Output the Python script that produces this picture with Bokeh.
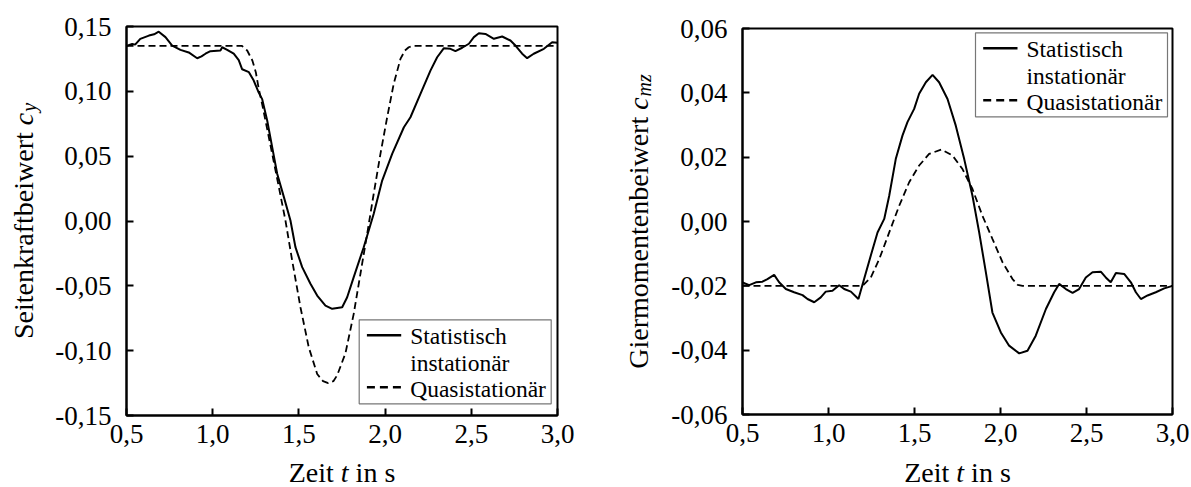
import math
from bokeh.plotting import figure
from bokeh.models import (Range1d, FixedTicker, CustomJSTickFormatter, Label,
                          BoxAnnotation, Arrow)
from bokeh.layouts import row
from bokeh.embed import file_html
from bokeh.resources import INLINE

FONT = "'Liberation Serif', 'Times New Roman', Times, serif"

# ---------------- data ----------------
t_ticks = [0.5, 1.0, 1.5, 2.0, 2.5, 3.0]
cy_ticks = [-0.15, -0.10, -0.05, 0.0, 0.05, 0.10, 0.15]
cmz_ticks = [-0.06, -0.04, -0.02, 0.0, 0.02, 0.04, 0.06]

legend_labels = ["Statistisch", "instationär", "Quasistationär"]

# left panel: side force coefficient c_y
cy_inst_t = [0.50, 0.533, 0.55, 0.58, 0.63, 0.66, 0.687, 0.726, 0.765, 0.813,
             0.861, 0.91, 0.935, 0.958, 0.987, 1.045, 1.055, 1.084, 1.122, 1.151,
             1.171, 1.21, 1.238, 1.267, 1.287, 1.316, 1.345, 1.374, 1.413, 1.451,
             1.48, 1.519, 1.567, 1.606, 1.654, 1.693, 1.751, 1.78, 1.818, 1.876,
             1.934, 1.983, 2.041, 2.109, 2.147, 2.205, 2.263, 2.302, 2.341, 2.379,
             2.408, 2.447, 2.486, 2.515, 2.544, 2.582, 2.631, 2.679, 2.727, 2.756,
             2.795, 2.824, 2.862, 2.921, 2.969, 3.0]
cy_inst = [0.135, 0.1366, 0.136, 0.1405, 0.143, 0.144, 0.146, 0.1418, 0.1353, 0.132,
           0.130, 0.1255, 0.127, 0.129, 0.131, 0.1315, 0.134, 0.132, 0.129, 0.124,
           0.117, 0.1148, 0.1083, 0.099, 0.094, 0.0775, 0.057, 0.0364, 0.0184, 0.0004,
           -0.0202, -0.0356, -0.0484, -0.0575, -0.0652, -0.0677, -0.0665, -0.0588, -0.0433, -0.0202,
           0.0056, 0.0312, 0.0518, 0.0723, 0.080, 0.098, 0.116, 0.1263, 0.1333, 0.1328,
           0.131, 0.1336, 0.1367, 0.1418, 0.1448, 0.1443, 0.1405, 0.1423, 0.1392, 0.1353,
           0.129, 0.1256, 0.129, 0.1328, 0.1379, 0.1374]

cy_quasi_t = [0.5, 1.17, 1.20, 1.23, 1.25, 1.267, 1.287, 1.345, 1.384, 1.422,
              1.461, 1.509, 1.557, 1.606, 1.64, 1.67, 1.70, 1.722, 1.77, 1.818,
              1.857, 1.896, 1.934, 1.973, 2.012, 2.05, 2.089, 2.115, 2.137, 2.16, 3.0]
cy_quasi = [0.135, 0.135, 0.1315, 0.1238, 0.1148, 0.102, 0.090, 0.0518, 0.026, 0.0004,
            -0.0305, -0.0665, -0.0973, -0.118, -0.1235, -0.125, -0.1235, -0.119, -0.102, -0.0716,
            -0.0407, -0.0099, 0.021, 0.0518, 0.080, 0.1058, 0.125, 0.1315, 0.134, 0.135, 0.135]

# right panel: yaw moment coefficient c_mz
cmz_inst_t = [0.5, 0.539, 0.578, 0.616, 0.645, 0.684, 0.713, 0.752, 0.80, 0.849,
              0.878, 0.917, 0.955, 0.984, 1.023, 1.062, 1.091, 1.13, 1.174, 1.207,
              1.246, 1.285, 1.324, 1.353, 1.391, 1.43, 1.459, 1.498, 1.527, 1.566,
              1.605, 1.643, 1.692, 1.74, 1.789, 1.837, 1.876, 1.915, 1.953, 2.002,
              2.05, 2.109, 2.157, 2.205, 2.264, 2.312, 2.341, 2.38, 2.419, 2.457,
              2.496, 2.535, 2.583, 2.612, 2.641, 2.671, 2.719, 2.758, 2.787, 2.816,
              2.855, 2.903, 2.952, 3.0]
cmz_inst = [-0.0189, -0.0198, -0.0189, -0.0187, -0.0179, -0.0166, -0.0189, -0.021, -0.022, -0.0229,
            -0.0241, -0.0251, -0.0236, -0.0218, -0.0215, -0.0198, -0.021, -0.0218, -0.0241, -0.0179,
            -0.0106, -0.0034, 0.0008, 0.008, 0.0194, 0.0267, 0.0309, 0.035, 0.0397, 0.0433,
            0.0456, 0.0433, 0.0381, 0.0298, 0.0194, 0.008, -0.0034, -0.0158, -0.0283, -0.0345,
            -0.0386, -0.041, -0.0402, -0.0355, -0.0272, -0.022, -0.0194, -0.021, -0.0222, -0.021,
            -0.0174, -0.0158, -0.0156, -0.0174, -0.0189, -0.016, -0.0163, -0.0189, -0.022, -0.0241,
            -0.023, -0.022, -0.0208, -0.020]

cmz_quasi_t = [0.5, 1.198, 1.246, 1.295, 1.353, 1.411, 1.469, 1.527, 1.585, 1.657,
               1.721, 1.779, 1.837, 1.895, 1.953, 2.012, 2.07, 2.10, 2.128, 3.0]
cmz_quasi = [-0.020, -0.020, -0.0174, -0.0117, -0.0034, 0.0049, 0.0122, 0.0174, 0.021, 0.0224,
             0.0205, 0.0163, 0.0101, 0.0018, -0.0054, -0.0127, -0.0179, -0.0197, -0.020, -0.020]

DASH = "7 4"
H = 487
BASE_FIX = 8   # labels render a little below the requested alphabetic baseline
SP = 7.0       # width of a space at 28px (Times metrics)


def txt(p, x, y, text, size="28px", style="normal", align="left", angle=0.0):
    # x, y = wanted baseline anchor in figure pixels from the top-left corner
    if angle == 0.0:
        y = y - BASE_FIX
    else:
        x = x - BASE_FIX
    p.add_layout(Label(x=x, y=H - y, x_units="screen", y_units="screen", text=text,
                       angle=angle, text_font=FONT, text_font_size=size,
                       text_font_style=style, text_align=align,
                       text_baseline="alphabetic", text_color="black"))


def make_panel(W, box, yr, yticks, t_inst, v_inst, t_q, v_q,
               ymain, ymain_w, ysub, ysub_w, ylab_x, leg_left, leg_top):
    bl, br, bt, bb = box           # plot box edges in figure pixels
    x0d, x1d = 0.5, 3.0
    y0d, y1d = yr
    kx = (x1d - x0d) / (br - bl)
    ky = (y1d - y0d) / (bb - bt)
    xr = Range1d(x0d - bl * kx, x1d + (W - br) * kx)
    yrng = Range1d(y0d - (H - bb) * ky, y1d + bt * ky)

    p = figure(width=W, height=H, min_border=0, x_range=xr, y_range=yrng,
               output_backend="svg", toolbar_location=None)
    p.grid.visible = False
    p.background_fill_color = "white"
    p.border_fill_color = "white"
    p.outline_line_color = None

    p.xaxis.fixed_location = y0d
    p.yaxis.fixed_location = x0d
    p.xaxis.bounds = (x0d, x1d)
    p.yaxis.bounds = (y0d, y1d)
    p.xaxis.ticker = FixedTicker(ticks=t_ticks)
    p.yaxis.ticker = FixedTicker(ticks=yticks)
    p.xaxis.formatter = CustomJSTickFormatter(code="return tick.toFixed(1).replace('.', ',');")
    p.yaxis.formatter = CustomJSTickFormatter(code="return tick.toFixed(2).replace('.', ',');")
    for ax in (p.xaxis[0], p.yaxis[0]):
        ax.axis_line_width = 2
        ax.axis_line_color = "black"
        ax.major_tick_in = 7
        ax.major_tick_out = 0
        ax.major_tick_line_width = 2
        ax.major_tick_line_color = "black"
        ax.minor_tick_line_color = None
        ax.major_label_text_font = FONT
        ax.major_label_text_font_size = "27px"
        ax.major_label_text_color = "black"
    p.xaxis.major_label_standoff = 9
    p.yaxis.major_label_standoff = 15

    p.line(t_inst, v_inst, line_color="black", line_width=2)
    p.line(t_q, v_q, line_color="black", line_width=1.8, line_dash=DASH)

    # plot box (frame outline)
    p.add_layout(BoxAnnotation(left=x0d, right=x1d, bottom=y0d, top=y1d,
                               fill_color=None, fill_alpha=0,
                               line_color="black", line_width=2, line_alpha=1))

    # x axis title "Zeit t in s" with italic t
    cx = (bl + br) / 2.0 + 2.7
    ty = 480
    txt(p, cx - 3.9 - SP, ty, "Zeit", align="right")
    txt(p, cx, ty, "t", style="italic", align="center")
    txt(p, cx + 3.9 + SP, ty, "in s", align="left")

    # y axis title with italic c and italic subscript
    ang = math.pi / 2
    total = ymain_w + SP + 12.4 + 1 + ysub_w
    cy_mid = (bt + bb) / 2.0
    start = cy_mid + total / 2.0          # figure-y of text start (bottom)
    y_c = start - ymain_w - SP             # figure-y where the italic c begins
    txt(p, ylab_x, y_c + SP, ymain, align="right", angle=ang)
    txt(p, ylab_x, y_c, "c", style="italic", align="left", angle=ang)
    txt(p, ylab_x + 5, y_c - 13.4, ysub, size="20px", style="italic", align="left", angle=ang)

    # legend
    lw, lh = 192, 84
    p.add_layout(BoxAnnotation(left=leg_left, right=leg_left + lw, top=H - leg_top,
                               bottom=H - leg_top - lh,
                               left_units="screen", right_units="screen",
                               top_units="screen", bottom_units="screen",
                               fill_color="white", fill_alpha=1,
                               line_color="#777777", line_width=1.2, line_alpha=1))
    gx0, gx1 = leg_left + 7.7, leg_left + 42
    for dy, dash in ((15.5, "solid"), (67.5, "8 5")):
        p.add_layout(Arrow(end=None, x_start=gx0, x_end=gx1,
                           y_start=H - leg_top - dy, y_end=H - leg_top - dy,
                           start_units="screen", end_units="screen",
                           line_color="black", line_width=2.5, line_dash=dash))
    for label, dy in zip(legend_labels, [24.5, 51, 77.5]):
        txt(p, leg_left + 51, leg_top + dy, label, size="23.5px")
    return p


p1 = make_panel(608, (126, 557, 26, 415), (-0.15, 0.15), cy_ticks,
                cy_inst_t, cy_inst, cy_quasi_t, cy_quasi,
                "Seitenkraftbeiwert", 7387 * 0.028, "y", 8.9, 31,
                358.7, 319.3)
p2 = make_panel(583, (134, 564, 28, 414), (-0.06, 0.06), cmz_ticks,
                cmz_inst_t, cmz_inst, cmz_quasi_t, cmz_quasi,
                "Giermomentenbeiwert", 8998 * 0.028, "mz", 22.2, 38,
                367, 32.3)

layout = row(p1, p2)
open("out.html", "w").write(file_html(layout, INLINE))
